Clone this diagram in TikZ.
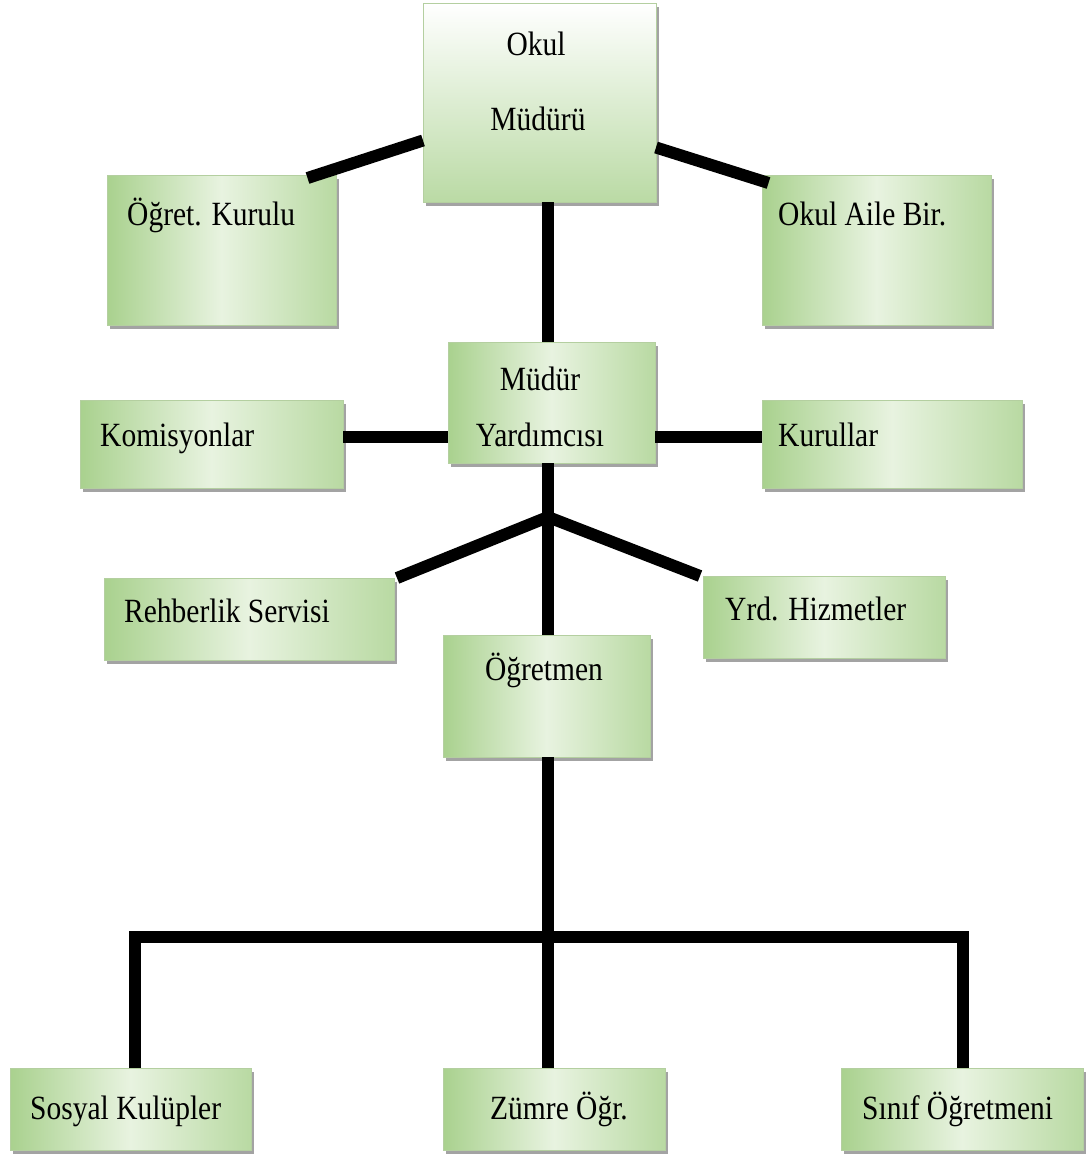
\documentclass[tikz,border=0pt]{standalone}
\usepackage{fontspec}
\usepackage{graphicx}
\setmainfont{Liberation Serif}
\usetikzlibrary{shadows,calc}
\definecolor{gdark}{HTML}{A9D18E}
\definecolor{glight}{HTML}{E8F3E0}
\definecolor{gedge}{HTML}{B4CFA0}
\newcommand\tx[1]{\scalebox{1}[1.15]{#1}}
\begin{document}
\begin{tikzpicture}[x=1pt,y=-1pt,
  box/.style={rectangle, draw=gedge, line width=0.6pt, inner sep=0pt, outer sep=0pt,
    left color=gdark, right color=gdark!75!glight, middle color=glight,
    drop shadow={shadow xshift=2.5pt, shadow yshift=-4pt, fill=black!45, opacity=0.8}},
  topbox/.style={box, top color=white, bottom color=gdark!80!white},
  conn/.style={line width=12pt, black, line join=miter, line cap=butt},
  lbl/.style={inner sep=0pt, font=\fontsize{29.5}{34}\selectfont}]
\useasboundingbox[fill=white] (0,0) rectangle (1086,1154);

% boxes
\node[topbox, minimum width=233pt, minimum height=199pt] (om) at (539.5,102.5) {};
\node[box, minimum width=229pt, minimum height=150pt] (ok) at (221.5,250) {};
\node[box, minimum width=229pt, minimum height=150pt] (oa) at (876.5,250) {};
\node[box, minimum width=207pt, minimum height=121pt] (my) at (551.5,402.5) {};
\node[box, minimum width=263pt, minimum height=88pt] (km) at (211.5,444) {};
\node[box, minimum width=260pt, minimum height=88pt] (ku) at (892,444) {};
\node[box, minimum width=290pt, minimum height=82pt] (rs) at (249,619) {};
\node[box, minimum width=242pt, minimum height=82pt] (yh) at (824,617) {};
\node[box, minimum width=207pt, minimum height=122pt] (og) at (546.5,696) {};
\node[box, minimum width=241pt, minimum height=82pt] (sk) at (130.5,1109) {};
\node[box, minimum width=222pt, minimum height=82pt] (zo) at (554,1109) {};
\node[box, minimum width=242pt, minimum height=82pt] (so) at (962,1109) {};

% texts
\node[lbl, anchor=base] (t1) at (536,55) {\tx{Okul}};
\node[lbl, anchor=base] (t2) at (538,130) {\tx{Müdürü}};
\node[lbl, anchor=base west] (t3) at (127,225) {\tx{Öğret. Kurulu}};
\node[lbl, anchor=base west] (t4) at (778,225) {\tx{Okul Aile Bir.}};
\node[lbl, anchor=base] (t5) at (540,390) {\tx{Müdür}};
\node[lbl, anchor=base] (t6) at (540,446) {\tx{Yardımcısı}};
\node[lbl, anchor=base west] (t7) at (100,446) {\tx{Komisyonlar}};
\node[lbl, anchor=base west] (t8) at (778,446) {\tx{Kurullar}};
\node[lbl, anchor=base west] (t9) at (124,622) {\tx{Rehberlik Servisi}};
\node[lbl, anchor=base west] (t10) at (725,620) {\tx{Yrd. Hizmetler}};
\node[lbl, anchor=base] (t11) at (544,680) {\tx{Öğretmen}};
\node[lbl, anchor=base west] (t12) at (30,1119) {\tx{Sosyal Kulüpler}};
\node[lbl, anchor=base west] (t13) at (490,1119) {\tx{Zümre Öğr.}};
\node[lbl, anchor=base west] (t14) at (862,1119) {\tx{Sınıf Öğretmeni}};

% connectors
\coordinate (j) at (548,517);
\coordinate (hb) at (548,937);
\draw[conn] ([yshift=-38pt]om.west) -- ([xshift=86pt,yshift=-3pt]ok.north);
\draw[conn] ([yshift=-45pt]om.east) -- ([xshift=-108pt,yshift=-8pt]oa.north);
\draw[conn] ([xshift=8.5pt]om.south) -- ([xshift=-3.5pt]my.north);
\draw[conn] ([yshift=7pt]km.east) -- ([yshift=7pt]km.east -| my.west);
\draw[conn] ([yshift=7pt]ku.west -| my.east) -- ([yshift=7pt]ku.west);
\draw[conn] ([xshift=-3.5pt]my.south) -- (j) -- ([xshift=1.5pt]og.north);
\draw[conn] (j) -- ([xshift=3pt]rs.north east);
\draw[conn] (j) -- ([xshift=-3pt]yh.north west);
\draw[conn] ([xshift=1.5pt]og.south) -- (hb);
\draw[conn] ([xshift=4.5pt]sk.north) |- (hb) -| ([xshift=1pt]so.north);
\draw[conn] (hb) -- ([xshift=-6pt]zo.north);
\end{tikzpicture}
\end{document}
